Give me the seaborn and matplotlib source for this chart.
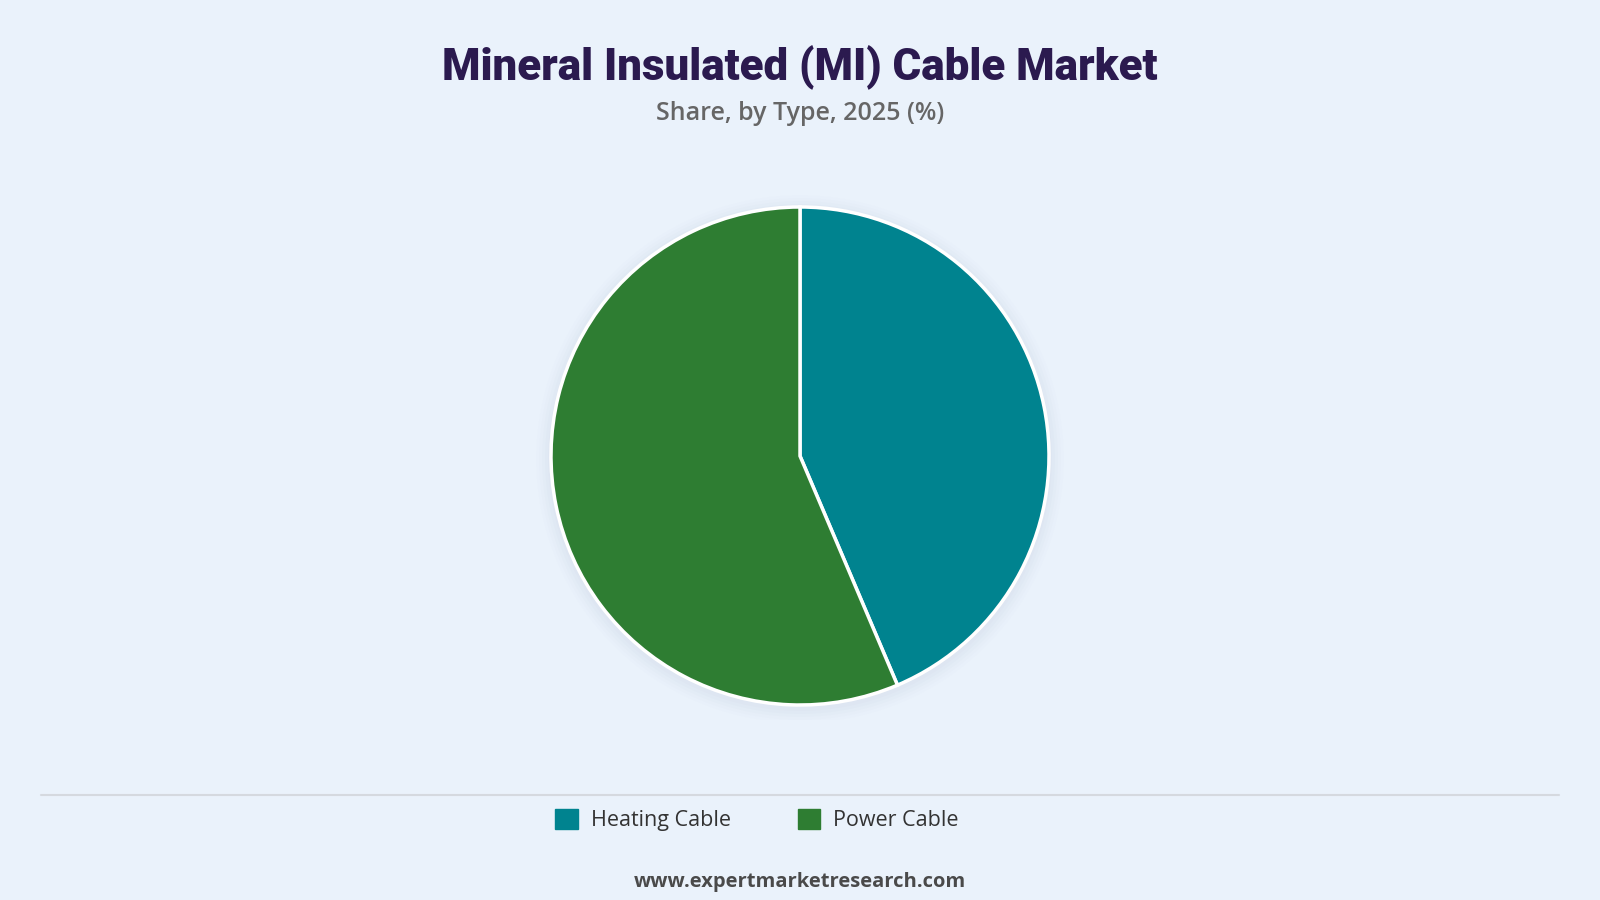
import matplotlib
matplotlib.use("Agg")
import matplotlib.pyplot as plt
import seaborn as sns
from matplotlib.patches import Patch, Circle
from matplotlib.lines import Line2D

# data
types = ["Heating Cable", "Power Cable"]
shares = [43.6, 56.4]
colors = ["#00838F", "#2E7D32"]

title = "Mineral Insulated (MI) Cable Market"
subtitle = "Share, by Type, 2025 (%)"
source = "www.expertmarketresearch.com"

bg = "#EAF2FB"

sns.set_theme(style="white")
plt.rcParams['font.family'] = ['Open Sans', 'DejaVu Sans']

fig = plt.figure(figsize=(16, 9), dpi=100, facecolor=bg)

# pie axes: centre at (800, 456) px, radius ~249 px
r_px = 249
cx, cy = 800, 456
pad = 1.06
ax = fig.add_axes([(cx - r_px * pad) / 1600, 1 - (cy + r_px * pad) / 900,
                   2 * r_px * pad / 1600, 2 * r_px * pad / 900])
ax.set_facecolor("none")

# soft shadow under the pie
for i, a in enumerate([0.025, 0.025, 0.02, 0.015, 0.01]):
    ax.add_patch(Circle((0.0, -0.012), 1.0 + 0.012 * (i + 1),
                        facecolor="#8090a8", alpha=a, edgecolor="none", zorder=0))

ax.pie(shares, colors=colors, startangle=90, counterclock=False,
       wedgeprops=dict(edgecolor="white", linewidth=2.5), radius=1.0)
ax.set_xlim(-pad, pad)
ax.set_ylim(-pad, pad)
ax.set_aspect("equal")
ax.axis("off")

fig.text(0.5, 1 - 68 / 900, title, ha="center", va="center",
         fontsize=31.6, fontweight="black", color="#2B1A4F",
         family=['Roboto', 'DejaVu Sans'])
fig.text(0.5, 1 - 113 / 900, subtitle, ha="center", va="center",
         fontsize=18, fontweight="semibold", color="#666666")

# separator line
fig.add_artist(Line2D([41 / 1600, 1559 / 1600], [1 - 795 / 900, 1 - 795 / 900],
                      color="#D5D9DF", linewidth=1.5))

handles = [Patch(facecolor=c, edgecolor=c, label=t) for t, c in zip(types, colors)]
leg = fig.legend(handles=handles, loc="center", bbox_to_anchor=(757 / 1600, 1 - 820 / 900),
                 ncol=2, frameon=False, fontsize=15.5, handlelength=1.05, handleheight=1.05,
                 handletextpad=0.6, columnspacing=3.1)
for t in leg.get_texts():
    t.set_color("#333333")

fig.text(0.5, 1 - 882 / 900, source, ha="center", va="center",
         fontsize=14.5, fontweight="bold", color="#4A4A4A")

fig.savefig("out.png", dpi=100, facecolor=bg)
